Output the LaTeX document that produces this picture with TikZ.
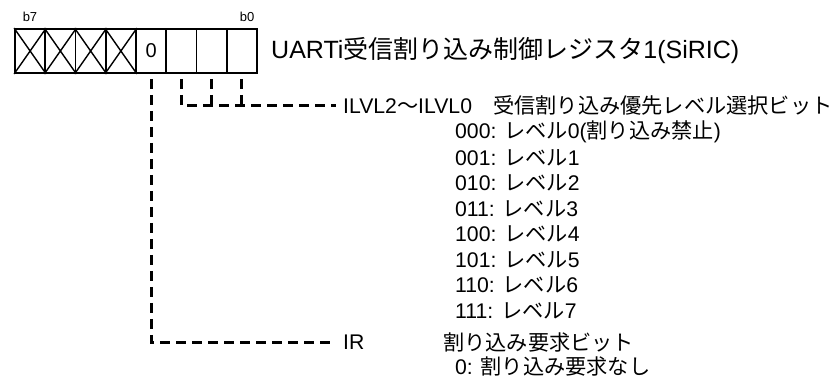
\documentclass[tikz,border=0pt]{standalone}
\usepackage{fontspec}
\setmainfont{Liberation Sans}
\newfontfamily\jp{Noto Sans CJK JP}
\usetikzlibrary{positioning}

\tikzset{
  cellbox/.style={draw, line width=1.8pt, minimum width=30.25pt, minimum height=44pt, inner sep=0pt, font=\fontsize{20}{24}\selectfont},
  bitlabel/.style={inner sep=0pt, font=\fontsize{13}{15}\selectfont},
  regtitle/.style={anchor=west, inner sep=0pt, font=\fontsize{25}{30}\selectfont},
  desctext/.style={anchor=west, inner sep=0pt, font=\fontsize{21.2}{25}\selectfont},
  sigline/.style={line width=3pt, dash pattern=on 10pt off 6pt}
}

\begin{document}
\begin{tikzpicture}[x=1pt, y=-1pt]
  \useasboundingbox (0,0) rectangle (832,378);

  % register cells, b7 on the left
  \foreach \b/\t in {7/,6/,5/,4/,3/0,2/,1/,0/}
    \node[cellbox] (c\b) at ({15+30.25*(7-\b)+15.125},51) {\t};
  \foreach \b in {7,6,5,4}
    \draw[line width=1.4pt] (c\b.north west) -- (c\b.south east)
                            (c\b.south west) -- (c\b.north east);

  \node[bitlabel] (b7) at (30,17) {b7};
  \node[bitlabel] (b0) at (247,17) {b0};
  \node[regtitle] (title) at (271,51) {UARTi{\jp 受信割り込み制御レジスタ}1(SiRIC)};

  % bit descriptions
  \node[desctext] (ilvl) at (343,105) {ILVL2{\jp ～}ILVL0{\jp 　受信割り込み優先レベル選択ビット}};
  \node[desctext] (v0) at (455,132) {000: {\jp レベル}0({\jp 割り込み禁止})};
  \node[desctext] (v1) at (455,157.5) {001: {\jp レベル}1};
  \node[desctext] (v2) at (455,183) {010: {\jp レベル}2};
  \node[desctext] (v3) at (455,208.5) {011: {\jp レベル}3};
  \node[desctext] (v4) at (455,234) {100: {\jp レベル}4};
  \node[desctext] (v5) at (455,259.5) {101: {\jp レベル}5};
  \node[desctext] (v6) at (455,285) {110: {\jp レベル}6};
  \node[desctext] (v7) at (455,310.5) {111: {\jp レベル}7};
  \node[desctext] (ir) at (343,342) {IR};
  \node[desctext] (irname) at (443,342) {\jp 割り込み要求ビット};
  \node[desctext] (ir0) at (455,366) {0: {\jp 割り込み要求なし}};

  % leader lines
  \draw[sigline] ([yshift=-5pt]c2.south) |- ([xshift=-7pt]ilvl.west);
  \draw[sigline] ([yshift=-5pt]c1.south) -- (c1.south |- ilvl.west);
  \draw[sigline] ([yshift=-5pt]c0.south) -- (c0.south |- ilvl.west);
  \draw[sigline] ([yshift=-5pt]c3.south) |- ([xshift=-7pt]ir.west);
\end{tikzpicture}
\end{document}
